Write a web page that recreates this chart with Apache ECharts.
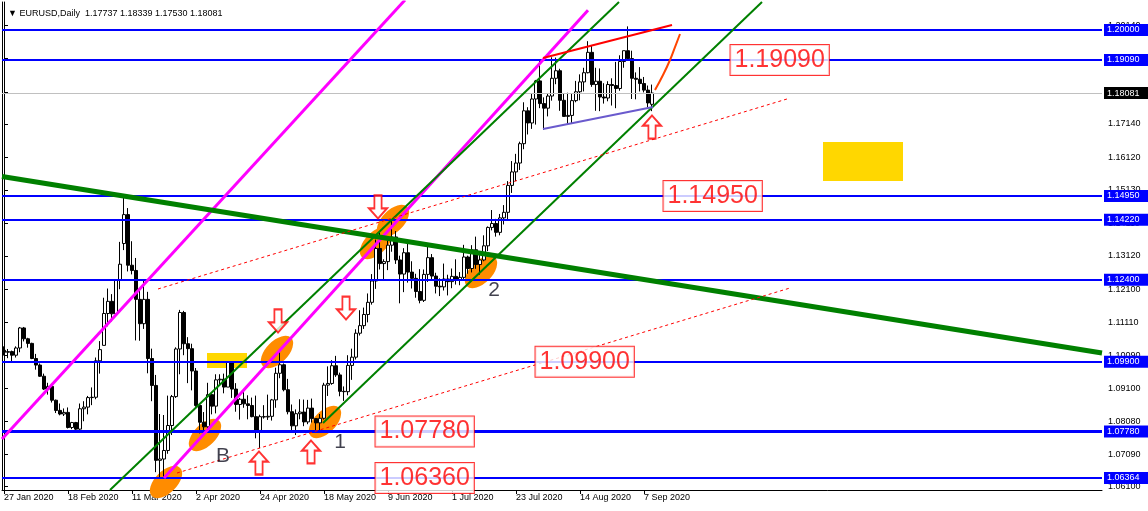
<!DOCTYPE html>
<html><head><meta charset="utf-8">
<script src="https://cdn.jsdelivr.net/npm/echarts@6/dist/echarts.min.js"></script>
<style>html,body{margin:0;padding:0;background:#fff}#c{width:1148px;height:511px}</style>
</head><body><div id="c"></div>
<script>
// ---------- DATA ----------
const dates = ['27 Jan 2020','28 Jan 2020','29 Jan 2020','30 Jan 2020','31 Jan 2020',
'3 Feb 2020','4 Feb 2020','5 Feb 2020','6 Feb 2020','7 Feb 2020','10 Feb 2020','11 Feb 2020','12 Feb 2020','13 Feb 2020','14 Feb 2020',
'17 Feb 2020','18 Feb 2020','19 Feb 2020','20 Feb 2020','21 Feb 2020','24 Feb 2020','25 Feb 2020','26 Feb 2020','27 Feb 2020','28 Feb 2020',
'2 Mar 2020','3 Mar 2020','4 Mar 2020','5 Mar 2020','6 Mar 2020','9 Mar 2020','10 Mar 2020','11 Mar 2020','12 Mar 2020','13 Mar 2020',
'16 Mar 2020','17 Mar 2020','18 Mar 2020','19 Mar 2020','20 Mar 2020','23 Mar 2020','24 Mar 2020','25 Mar 2020','26 Mar 2020','27 Mar 2020',
'30 Mar 2020','31 Mar 2020','1 Apr 2020','2 Apr 2020','3 Apr 2020','6 Apr 2020','7 Apr 2020','8 Apr 2020','9 Apr 2020','10 Apr 2020',
'13 Apr 2020','14 Apr 2020','15 Apr 2020','16 Apr 2020','17 Apr 2020','20 Apr 2020','21 Apr 2020','22 Apr 2020','23 Apr 2020','24 Apr 2020',
'27 Apr 2020','28 Apr 2020','29 Apr 2020','30 Apr 2020','1 May 2020','4 May 2020','5 May 2020','6 May 2020','7 May 2020','8 May 2020',
'11 May 2020','12 May 2020','13 May 2020','14 May 2020','15 May 2020','18 May 2020','19 May 2020','20 May 2020','21 May 2020','22 May 2020',
'25 May 2020','26 May 2020','27 May 2020','28 May 2020','29 May 2020','1 Jun 2020','2 Jun 2020','3 Jun 2020','4 Jun 2020','5 Jun 2020',
'8 Jun 2020','9 Jun 2020','10 Jun 2020','11 Jun 2020','12 Jun 2020','15 Jun 2020','16 Jun 2020','17 Jun 2020','18 Jun 2020','19 Jun 2020',
'22 Jun 2020','23 Jun 2020','24 Jun 2020','25 Jun 2020','26 Jun 2020','29 Jun 2020','30 Jun 2020','1 Jul 2020','2 Jul 2020','3 Jul 2020',
'6 Jul 2020','7 Jul 2020','8 Jul 2020','9 Jul 2020','10 Jul 2020','13 Jul 2020','14 Jul 2020','15 Jul 2020','16 Jul 2020','17 Jul 2020',
'20 Jul 2020','21 Jul 2020','22 Jul 2020','23 Jul 2020','24 Jul 2020','27 Jul 2020','28 Jul 2020','29 Jul 2020','30 Jul 2020','31 Jul 2020',
'3 Aug 2020','4 Aug 2020','5 Aug 2020','6 Aug 2020','7 Aug 2020','10 Aug 2020','11 Aug 2020','12 Aug 2020','13 Aug 2020','14 Aug 2020',
'17 Aug 2020','18 Aug 2020','19 Aug 2020','20 Aug 2020','21 Aug 2020','24 Aug 2020','25 Aug 2020','26 Aug 2020','27 Aug 2020','28 Aug 2020',
'31 Aug 2020','1 Sep 2020','2 Sep 2020','3 Sep 2020','4 Sep 2020','7 Sep 2020','8 Sep 2020','9 Sep 2020'];

const opens = [1.1025,1.1019,1.1021,1.1010,1.1032,
1.1093,1.1060,1.1046,1.1000,1.0980,1.0946,1.0907,1.0915,1.0873,1.0842,
1.0831,1.0836,1.0790,1.0805,1.0785,1.0847,1.0852,1.0881,1.0882,1.0993,
1.1040,1.1137,1.1174,1.1136,1.1238,1.1350,1.1438,1.1284,1.1268,1.1180,
1.1106,1.1180,1.1000,1.0918,1.0690,1.0694,1.0720,1.0796,1.0884,1.1029,
1.1140,1.1045,1.1030,1.0962,1.0857,1.0806,1.0792,1.0890,1.0855,1.0935,
1.0937,1.0913,1.0989,1.0907,1.0860,1.0876,1.0862,1.0857,1.0823,1.0781,
1.0823,1.0822,1.0824,1.0874,1.0955,1.0981,1.0905,1.0838,1.0795,1.0832,
1.0837,1.0807,1.0849,1.0817,1.0804,1.0818,1.0919,1.0924,1.0978,1.0950,
1.0900,1.0899,1.0979,1.1004,1.1077,1.1100,1.1134,1.1171,1.1236,1.1335,
1.1289,1.1295,1.1345,1.1370,1.1300,1.1257,1.1322,1.1263,1.1244,1.1204,
1.1177,1.1256,1.1307,1.1251,1.1220,1.1218,1.1242,1.1234,1.1250,1.1239,
1.1247,1.1309,1.1274,1.1331,1.1286,1.1300,1.1343,1.1399,1.1411,1.1384,
1.1428,1.1445,1.1527,1.1568,1.1595,1.1654,1.1754,1.1717,1.1790,1.1845,
1.1776,1.1762,1.1799,1.1853,1.1876,1.1786,1.1737,1.1740,1.1785,1.1812,
1.1842,1.1870,1.1932,1.1834,1.1844,1.1796,1.1793,1.1834,1.1831,1.1822,
1.1904,1.1937,1.1913,1.1853,1.1850,1.1837,1.1817,1.17737];

const highs = [1.1037,1.1029,1.1024,1.1037,1.1096,
1.1096,1.1063,1.1048,1.1014,1.0985,1.0954,1.0926,1.0923,1.0875,1.0863,
1.0848,1.0851,1.0807,1.0807,1.0863,1.0870,1.0886,1.0912,1.1003,1.1053,
1.1185,1.1213,1.1196,1.1242,1.1355,1.1496,1.1458,1.1357,1.1306,1.1206,
1.1238,1.1203,1.1030,1.0950,1.0831,1.0828,1.0887,1.0889,1.1034,1.1148,
1.1145,1.1065,1.1045,1.0971,1.0862,1.0837,1.0926,1.0893,1.0952,1.0952,
1.0954,1.0990,1.0991,1.0925,1.0880,1.0902,1.0888,1.0881,1.0887,1.0829,
1.0858,1.0890,1.0877,1.0972,1.1019,1.0985,1.0938,1.0860,1.0845,1.0876,
1.0875,1.0874,1.0878,1.0818,1.0831,1.0926,1.0976,1.0995,1.1008,1.0957,
1.0915,1.1010,1.1030,1.1089,1.1147,1.1155,1.1198,1.1257,1.1362,1.1384,
1.1302,1.1362,1.1422,1.1388,1.1313,1.1336,1.1349,1.1296,1.1258,1.1272,
1.1271,1.1349,1.1318,1.1261,1.1244,1.1289,1.1255,1.1274,1.1302,1.1263,
1.1346,1.1313,1.1345,1.1371,1.1315,1.1375,1.1402,1.1452,1.1425,1.1440,
1.1467,1.1540,1.1601,1.1623,1.1660,1.1780,1.1765,1.1806,1.1848,1.1908,
1.1795,1.1806,1.1917,1.1916,1.1882,1.1808,1.1809,1.1806,1.1845,1.1865,
1.1885,1.1966,1.1952,1.1885,1.1883,1.1838,1.1844,1.1853,1.1903,1.1923,
1.1937,1.2011,1.1937,1.1871,1.1887,1.1857,1.1831,1.18339];

const lows = [1.1009,1.1001,1.0992,1.1003,1.1019,
1.1052,1.1033,1.0998,1.0966,1.0944,1.0904,1.0890,1.0866,1.0834,1.0827,
1.0825,1.0787,1.0785,1.0778,1.0779,1.0809,1.0830,1.0858,1.0876,1.0954,
1.1040,1.1098,1.1113,1.1135,1.1211,1.1330,1.1265,1.1256,1.1055,1.1054,
1.1090,1.0955,1.0870,1.0654,1.0636,1.0636,1.0710,1.0767,1.0880,1.0952,
1.1010,1.0925,1.0903,1.0853,1.0772,1.0769,1.0784,1.0830,1.0833,1.0920,
1.0894,1.0913,1.0880,1.0838,1.0814,1.0850,1.0815,1.0821,1.0757,1.0727,
1.0817,1.0813,1.0811,1.0850,1.0940,1.0900,1.0830,1.0782,1.0767,1.0815,
1.0794,1.0800,1.0805,1.0774,1.0775,1.0814,1.0886,1.0920,1.0944,1.0885,
1.0871,1.0888,1.0935,1.0997,1.1070,1.1090,1.1110,1.1164,1.1212,1.1271,
1.1238,1.1269,1.1325,1.1288,1.1168,1.1202,1.1231,1.1213,1.1185,1.1168,
1.1172,1.1233,1.1237,1.1198,1.1190,1.1207,1.1192,1.1214,1.1225,1.1223,
1.1242,1.1258,1.1262,1.1273,1.1255,1.1296,1.1327,1.1390,1.1371,1.1375,
1.1408,1.1422,1.1504,1.1540,1.1574,1.1637,1.1682,1.1699,1.1712,1.1762,
1.1696,1.1737,1.1785,1.1835,1.1754,1.1736,1.1711,1.1716,1.1780,1.1786,
1.1813,1.1868,1.1827,1.1754,1.1753,1.1776,1.1783,1.1770,1.1762,1.1815,
1.1885,1.1910,1.1790,1.1789,1.1813,1.1810,1.1765,1.17530];

const closes = [1.1019,1.1021,1.1010,1.1032,1.1093,
1.1060,1.1046,1.1000,1.0980,1.0946,1.0907,1.0915,1.0873,1.0842,1.0831,
1.0836,1.0790,1.0805,1.0785,1.0847,1.0852,1.0881,1.0882,1.0993,1.1027,
1.1137,1.1174,1.1136,1.1238,1.1287,1.1438,1.1284,1.1268,1.1180,1.1106,
1.1180,1.1000,1.0918,1.0690,1.0694,1.0720,1.0796,1.0884,1.1029,1.1140,
1.1045,1.1030,1.0962,1.0857,1.0806,1.0792,1.0890,1.0855,1.0935,1.0937,
1.0913,1.0989,1.0907,1.0860,1.0876,1.0862,1.0857,1.0823,1.0781,1.0823,
1.0822,1.0824,1.0874,1.0955,1.0981,1.0905,1.0838,1.0795,1.0832,1.0837,
1.0807,1.0849,1.0817,1.0804,1.0818,1.0919,1.0924,1.0978,1.0950,1.0900,
1.0899,1.0979,1.1004,1.1077,1.1100,1.1134,1.1171,1.1236,1.1335,1.1289,
1.1295,1.1345,1.1370,1.1300,1.1257,1.1322,1.1263,1.1244,1.1204,1.1177,
1.1256,1.1307,1.1251,1.1220,1.1218,1.1242,1.1234,1.1250,1.1239,1.1247,
1.1309,1.1274,1.1331,1.1286,1.1300,1.1343,1.1399,1.1411,1.1384,1.1428,
1.1445,1.1527,1.1568,1.1595,1.1654,1.1754,1.1717,1.1790,1.1845,1.1776,
1.1762,1.1799,1.1853,1.1876,1.1786,1.1737,1.1740,1.1785,1.1812,1.1842,
1.1870,1.1932,1.1834,1.1844,1.1796,1.1793,1.1834,1.1831,1.1822,1.1904,
1.1937,1.1913,1.1853,1.1850,1.1837,1.1817,1.1778,1.18081];

const totalSlots = 275;            // bars incl. empty future area (chart shift)
const labelEvery = 16;
const yTickValues = [1.0610,1.0709,1.0808,1.0910,1.1009,1.1111,1.1210,1.1312,1.1411,1.1513,1.1612,1.1714,1.1811,1.1913,1.2014];
const yMin = 1.05997, yMax = 1.208524;

const levelPrices = [1.20000,1.19090,1.14950,1.14220,1.12400,1.09900,1.07780,1.06364];
const bidPrice = 1.18081;
const header = '\u25BC EURUSD,Daily  1.17737 1.18339 1.17530 1.18081';

// trend lines: [barIndex, price] endpoints
const magentaLines = [[[-0.5,1.0755],[100.25,1.20913]],[[40,1.0636],[146,1.2060]]];
const greenThick = [[-0.5,1.15540],[274.5,1.10167]];
const greenThin = [[[26.5,1.05997],[153.75,1.208524]],[[79.75,1.08036],[189.5,1.208524]]];
const redDotted = [[[38.5,1.12116],[195.75,1.17900]],[[43.25,1.06514],[196.5,1.12146]]];
const redSolid = [[134.75,1.19148],[167,1.20152]];
const orangeCurve = [[162.75,1.18174],[164.75,1.18630],[166.5,1.19087],[167.75,1.19482],[169,1.19878]];
const slateLine = [[134.75,1.16986],[162.25,1.17656]];
const goldRects = [[204.75,1.16590,224.75,1.15403],[50.75,1.10167,60.75,1.09711]];
const ellipses = [[40.5,1.06240],[50.25,1.07671],[68.25,1.10198],[80.25,1.08067],[93,1.13516],[97.25,1.14186],[119.25,1.12633]];
const upArrows = [[63.75,1.06819],[76.75,1.07154],[162,1.17047]];
const downArrows = [[68.5,1.11142],[85.5,1.11537],[93.5,1.14612]];
const boxTexts = ['1.19090','1.14950','1.09900','1.07780','1.06360'];
const boxPos = [[181.5,1.19090],[164.75,1.14950],[132.75,1.09900],[92.75,1.07780],[92.75,1.06360]];
const letters = ['B','1','2'];
const letterPos = [[54.75,1.07032],[84,1.07458],[122.5,1.12085]];

// ---------- CHART ----------
const FONT = 'Liberation Sans, DejaVu Sans, sans-serif';
const cats = dates.slice();
for (let i = dates.length; i < totalSlots; i++) cats.push('_f' + i);
const showIdx = (i) => i % labelEvery === 0 && i < dates.length;

const candleData = opens.map((o, i) => [o, closes[i], lows[i], highs[i]]);
const arrowPath = 'path://M10,0 L20,11 L14,11 L14,25 L6,25 L6,11 L0,11 Z';

function lineSeries(points, color, width, type, z) {
  return {type:'line', xAxisIndex:1, yAxisIndex:0, data:points, symbol:'none', silent:true,
    animation:false, z:z||6, clip:true, lineStyle:{color:color, width:width, type:type||'solid'}};
}

const series = [];
// gold rectangles
series.push({type:'custom', xAxisIndex:1, yAxisIndex:0, z:1, silent:true, animation:false,
  data: goldRects,
  renderItem: function(params, api){
    const a = api.coord([api.value(0), api.value(1)]);
    const b = api.coord([api.value(2), api.value(3)]);
    return {type:'rect', shape:{x:a[0], y:a[1], width:b[0]-a[0], height:b[1]-a[1]}, style:{fill:'#ffd700'}};
  }});
// orange ellipses
series.push({type:'scatter', xAxisIndex:1, yAxisIndex:0, z:1, silent:true, animation:false,
  data: ellipses, symbol:'circle', symbolSize:[40,22], symbolRotate:45,
  itemStyle:{color:'#ff8c00', opacity:1}});
// candles
series.push({type:'candlestick', xAxisIndex:0, yAxisIndex:0, z:3, silent:true, animation:false,
  data: candleData, barWidth:3,
  itemStyle:{color:'#ffffff', color0:'#000000', borderColor:'#000000', borderColor0:'#000000', borderWidth:1}});
// horizontal levels + bid line
series.push({type:'line', xAxisIndex:0, yAxisIndex:0, data:[], z:5, silent:true, animation:false,
  markLine:{symbol:['none','none'], silent:true, animation:false, precision:5,
    data: levelPrices.map(p => ({yAxis:p,
      lineStyle:{color:'#0000ff', width: p === 1.0778 ? 3 : 2, type:'solid'},
      label:{show:true, position:'end', distance:2, formatter:p.toFixed(5), color:'#ffffff',
        backgroundColor:'#0000ff', padding:[2,9,1,3], fontSize:9, fontFamily:FONT}}))
      .concat([{yAxis:bidPrice, lineStyle:{color:'#c0c0c0', width:1, type:'solid'},
      label:{show:true, position:'end', distance:2, formatter:bidPrice.toFixed(5), color:'#ffffff',
        backgroundColor:'#000000', padding:[2,9,1,3], fontSize:9, fontFamily:FONT}}])
  }});
// trend lines
magentaLines.forEach(l => series.push(lineSeries(l, '#ff00ff', 3)));
series.push(lineSeries(greenThick, '#008000', 5));
greenThin.forEach(l => series.push(lineSeries(l, '#008000', 2)));
redDotted.forEach(l => series.push(lineSeries(l, '#ff0000', 1, [3,3])));
series.push(lineSeries(redSolid, '#ff0000', 2));
series.push(Object.assign(lineSeries(orangeCurve, '#ff4500', 2), {smooth:true}));
series.push(lineSeries(slateLine, '#6a5acd', 2));
// arrows
series.push({type:'scatter', xAxisIndex:1, yAxisIndex:0, z:8, silent:true, animation:false,
  data: upArrows, symbol:arrowPath, symbolSize:[18,23],
  itemStyle:{color:'#ffffff', borderColor:'#ff0000', borderWidth:2}});
series.push({type:'scatter', xAxisIndex:1, yAxisIndex:0, z:8, silent:true, animation:false,
  data: downArrows, symbol:arrowPath, symbolSize:[18,23], symbolRotate:180,
  itemStyle:{color:'#ffffff', borderColor:'#ff0000', borderWidth:2}});
// red text boxes
series.push({type:'scatter', xAxisIndex:1, yAxisIndex:0, z:9, silent:true, animation:false, clip:false,
  data: boxPos.map((p, i) => ({value:p, label:{formatter:boxTexts[i]}})),
  symbol:'rect', symbolSize:1, itemStyle:{color:'rgba(0,0,0,0)'},
  label:{show:true, position:'right', distance:0, color:'#ff0000', fontSize:25, fontFamily:FONT,
    backgroundColor:'#ffffff', borderColor:'#ff0000', borderWidth:1, padding:[3,4,2,4]}});
// letters
series.push({type:'scatter', xAxisIndex:1, yAxisIndex:0, z:9, silent:true, animation:false,
  data: letterPos.map((p, i) => ({value:p, label:{formatter:letters[i]}})),
  symbol:'rect', symbolSize:1, itemStyle:{color:'rgba(0,0,0,0)'},
  label:{show:true, position:'inside', color:'#111122', fontSize:21, fontFamily:FONT}});

const option = {
  backgroundColor:'#ffffff',
  animation:false,
  title:{text:header, left:3, top:4, textStyle:{fontSize:9, fontWeight:'normal', color:'#000', fontFamily:FONT}},
  grid:{left:2, right:46, top:2, bottom:21, containLabel:false},
  xAxis:[
    {type:'category', data:cats, boundaryGap:true,
      axisLine:{show:true, lineStyle:{color:'#000', width:1}},
      axisTick:{show:true, interval:showIdx, alignWithLabel:true, length:4, lineStyle:{color:'#000'}},
      axisLabel:{show:true, interval:showIdx, align:'left', margin:3, fontSize:9, color:'#000', fontFamily:FONT},
      splitLine:{show:false}},
    {type:'value', min:-0.5, max:totalSlots-0.5, show:false}
  ],
  yAxis:[
    {type:'value', position:'right', min:yMin, max:yMax, scale:true,
      axisLine:{show:true, lineStyle:{color:'#000', width:1}},
      axisTick:{show:true, customValues:yTickValues, length:4, lineStyle:{color:'#000'}},
      axisLabel:{show:true, customValues:yTickValues, formatter:v => v.toFixed(5), margin:6,
        fontSize:9, color:'#000', fontFamily:FONT},
      splitLine:{show:false}},
    {type:'value', position:'left', min:yMin, max:yMax,
      axisLine:{show:true, lineStyle:{color:'#000', width:1}},
      axisTick:{show:false}, axisLabel:{show:false}, splitLine:{show:false}}
  ],
  series: series
};
const chart = echarts.init(document.getElementById('c'), null, {renderer:'canvas'});
chart.setOption(option);
</script>
</body></html>
